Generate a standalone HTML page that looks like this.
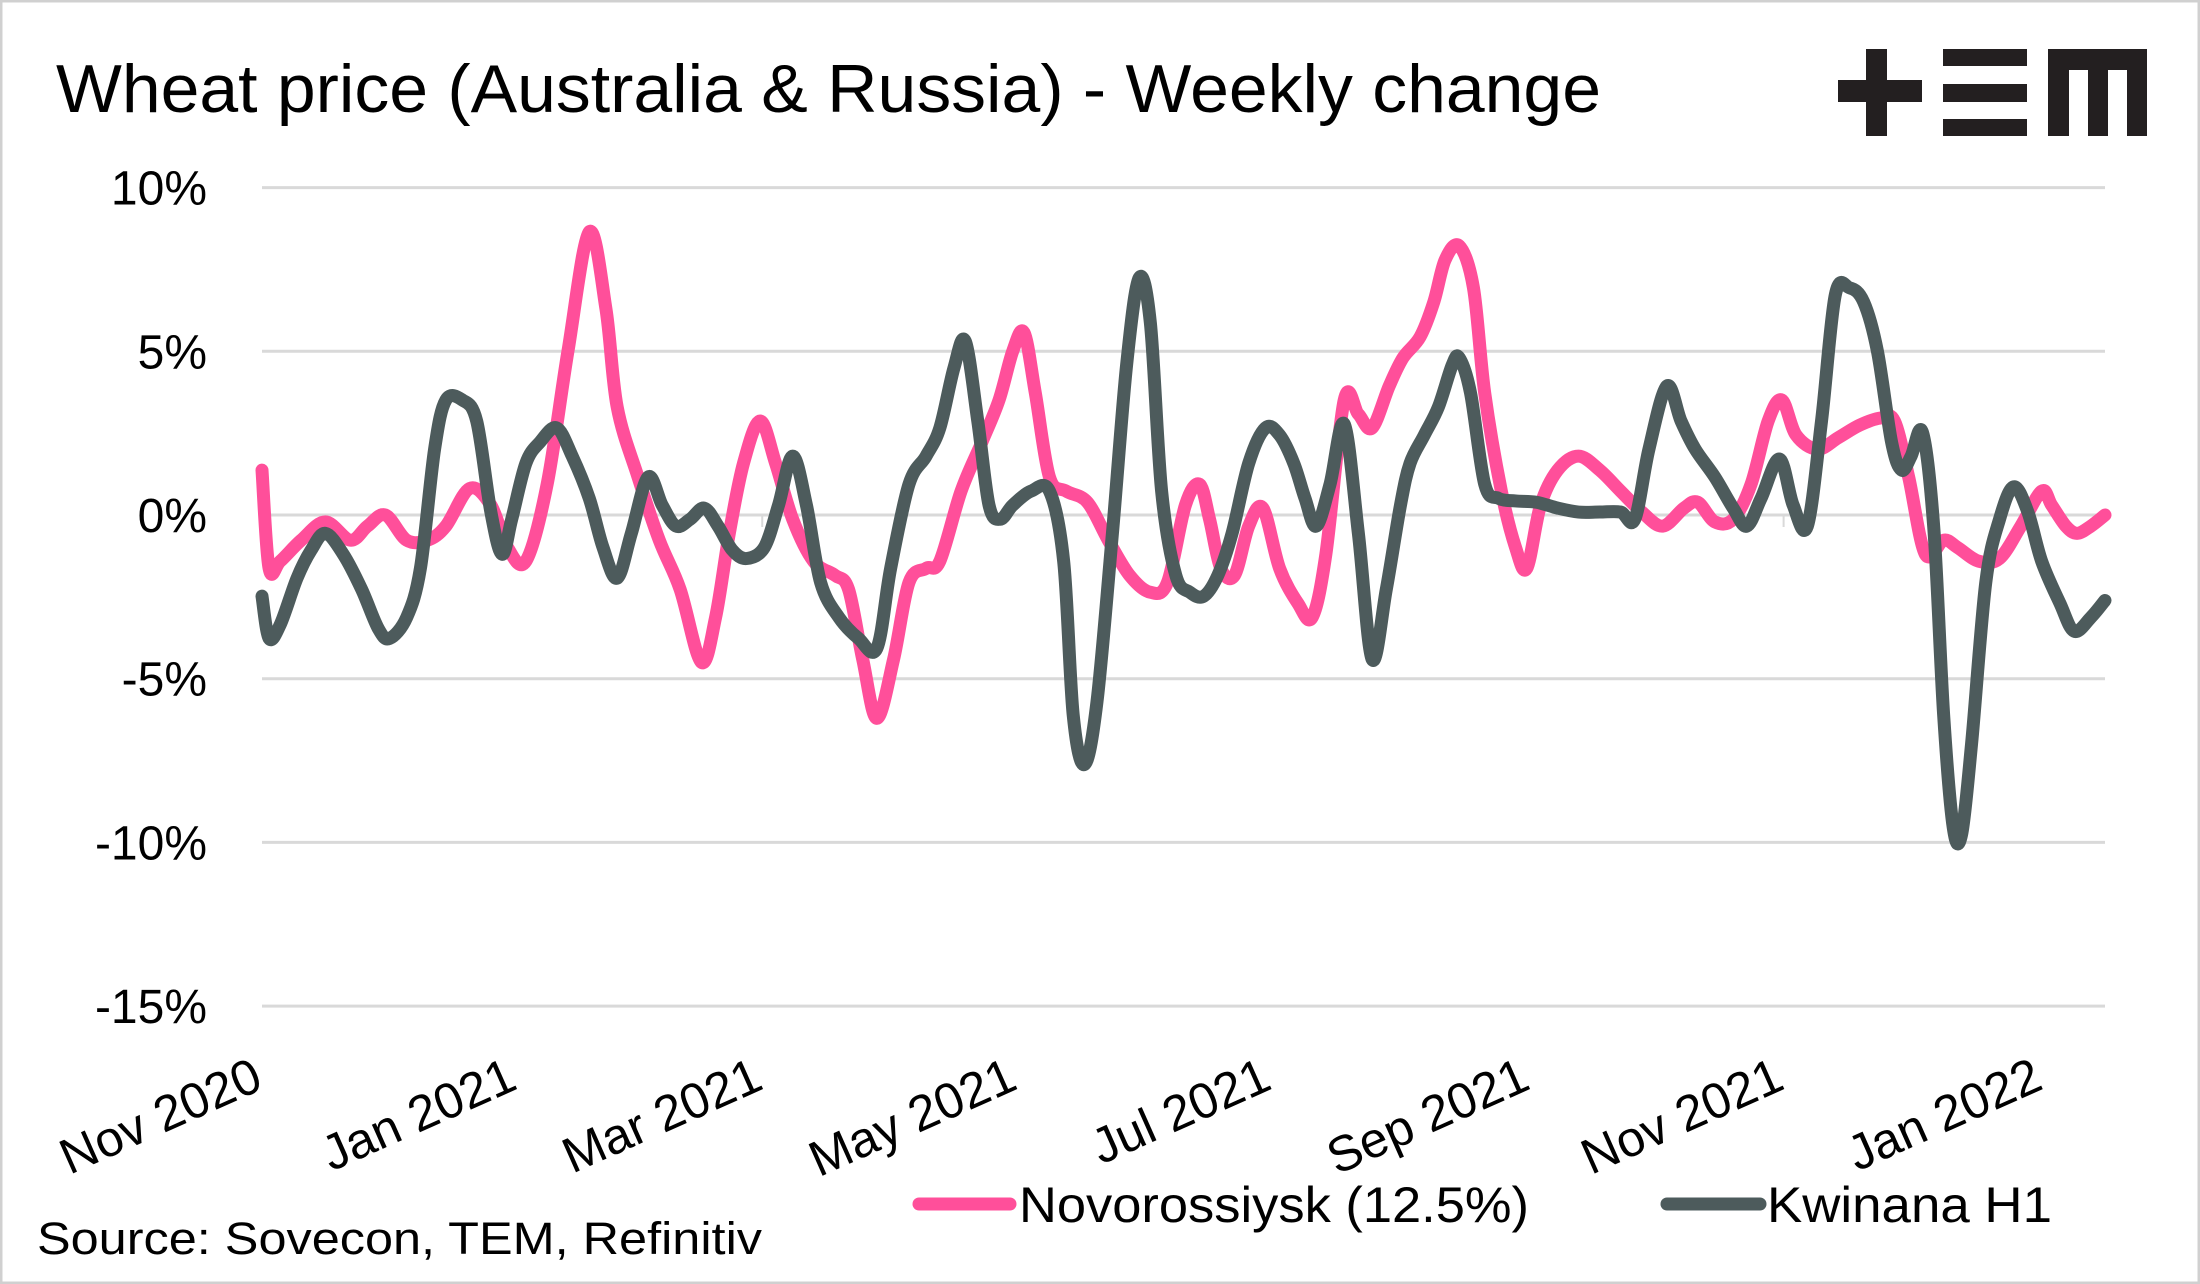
<!DOCTYPE html>
<html><head><meta charset="utf-8"><style>
html,body{margin:0;padding:0;background:#fff}
svg{display:block}
text{font-family:"Liberation Sans",sans-serif;fill:#000}
</style></head><body>
<svg id="chart" width="2200" height="1284" viewBox="0 0 2200 1284">
<rect x="1" y="1" width="2198" height="1282" fill="#fff" stroke="#d0d0d0" stroke-width="3"/>
<text x="56" y="112" font-size="68" textLength="1545" lengthAdjust="spacingAndGlyphs">Wheat price (Australia &amp; Russia)  - Weekly change</text>
<g fill="#231f20">
<rect x="1866" y="49" width="21" height="87"/><rect x="1838" y="80" width="84" height="22"/>
<rect x="1943" y="49" width="84" height="17"/><rect x="1943" y="84" width="84" height="18"/><rect x="1943" y="119" width="84" height="17"/>
<rect x="2048" y="49" width="99" height="21"/><rect x="2048" y="49" width="21" height="87"/><rect x="2088" y="49" width="20" height="87"/><rect x="2127" y="49" width="20" height="87"/>
</g>
<g id="grid"></g>
<g id="yaxis"></g>
<g id="xaxis"></g>
<g id="series"></g>
<g>
<line x1="919" y1="1204" x2="1010" y2="1204" stroke="#ff4f9a" stroke-width="13" stroke-linecap="round"/>
<text x="1019" y="1222" font-size="50" textLength="510" lengthAdjust="spacingAndGlyphs">Novorossiysk (12.5%)</text>
<line x1="1667" y1="1204" x2="1760" y2="1204" stroke="#4d5b5c" stroke-width="13" stroke-linecap="round"/>
<text x="1767" y="1222" font-size="50" textLength="285" lengthAdjust="spacingAndGlyphs">Kwinana H1</text>
</g>
<text x="37" y="1254" font-size="45" textLength="725" lengthAdjust="spacingAndGlyphs">Source: Sovecon, TEM, Refinitiv</text>
</svg>
<script>
// days since 1 Nov 2020, values in %
const novDays=[0,1.7,4.4,9.4,15.2,21.2,25.3,29.6,34.7,39.7,44.1,49.8,54.9,58.9,63.3,68.4,73.4,78.5,82.5,85.2,90.2,95.3,100.3,105.4,108.8,112.1,115.5,119.5,123.2,127.3,132.3,137.4,140.7,144.1,147.5,151.5,155.2,159.3,162.6,167.7,172.7,176.8,180.1,182.8,185.5,188.9,192.9,198.0,203.0,208.1,213.1,217.2,221.5,224.9,227.3,230.0,233.3,236.7,240.1,244.1,248.5,251.9,255.2,259.6,263.0,266.3,270.4,273.7,277.8,281.1,283.8,287.2,290.6,293.3,297.3,300.7,303.4,306.7,310.8,315.8,320.9,325.9,331.0,336.0,341.1,344.4,348.5,352.9,357.2,361.3,364.6,368.0,373.1,378.1,383.2,388.2,391.6,395.0,399.0,403.4,406.7,411.8,416.8,421.9,426.9,429.3,432.7,435.4,438.7,442.1];
const novValues=[1.37,-1.63,-1.41,-0.77,-0.21,-0.77,-0.34,0,-0.77,-0.77,-0.34,0.81,0.30,-0.99,-1.41,0.94,5.01,8.65,6.30,3.30,1.16,-0.77,-2.27,-4.50,-3.13,-0.56,1.58,2.87,1.58,-0.13,-1.41,-1.84,-2.27,-4.41,-6.21,-4.41,-2.06,-1.63,-1.41,0.73,2.23,3.51,5.01,5.57,3.73,1.16,0.73,0.39,-0.77,-1.84,-2.36,-2.06,0.30,0.94,-0.13,-1.63,-1.84,-0.34,0.21,-1.63,-2.70,-3.13,-1.20,3.51,3.08,2.66,3.94,4.80,5.44,6.51,7.79,8.22,6.94,3.73,0.73,-0.99,-1.63,0.30,1.37,1.80,1.37,0.73,0.09,-0.34,0.21,0.39,-0.21,-0.13,0.94,2.87,3.51,2.44,2.01,2.36,2.74,2.96,2.87,1.16,-1.20,-0.77,-0.99,-1.41,-1.33,-0.34,0.73,0.30,-0.34,-0.56,-0.34,0];
const kwiDays=[0,1.7,4.4,8.4,11.8,15.2,19.5,23.9,27.9,30.6,34.7,38.0,41.4,44.1,48.1,51.5,54.9,57.6,59.9,63.3,66.7,70.7,74.4,78.5,81.8,85.2,88.6,92.6,96.0,99.3,102.7,106.1,109.4,112.8,116.2,120.5,123.9,127.3,130.6,134.0,138.4,143.1,147.5,150.8,155.2,159.3,162.6,166.0,168.7,171.7,174.4,177.1,180.1,184.5,188.9,192.3,194.6,197.3,200.3,204.0,207.4,210.4,213.1,215.8,219.2,222.6,225.9,229.3,232.7,236.7,240.7,244.1,247.5,250.2,252.9,256.2,259.6,263.0,266.3,269.7,273.1,275.4,278.8,282.2,285.5,287.2,289.9,293.3,296.6,300.7,305.7,310.8,315.8,320.9,325.9,329.3,332.7,337.0,340.4,343.8,348.5,352.9,356.2,359.6,364.0,367.3,370.7,374.1,377.4,380.8,384.2,387.5,390.9,393.3,395.6,398.3,401.0,403.4,405.7,407.7,410.1,413.5,416.8,420.2,423.6,426.9,431.3,434.7,438.7,442.1];
const kwiValues=[-2.48,-3.77,-3.34,-1.93,-1.07,-0.56,-1.20,-2.27,-3.47,-3.77,-3.13,-1.63,2.01,3.51,3.51,2.87,0.09,-1.20,-0.13,1.58,2.23,2.66,1.80,0.51,-0.99,-1.93,-0.56,1.16,0.30,-0.34,-0.13,0.21,-0.34,-1.07,-1.33,-0.99,0.30,1.80,0.30,-2.06,-3.13,-3.77,-4.07,-1.63,0.94,1.80,2.66,4.50,5.31,2.87,0.30,-0.13,0.30,0.73,0.73,-1.41,-6.12,-7.62,-5.70,-0.56,4.58,7.24,5.87,0.73,-1.84,-2.36,-2.48,-1.84,-0.56,1.58,2.66,2.44,1.58,0.51,-0.34,0.94,2.78,-0.56,-4.41,-2.27,0.30,1.58,2.44,3.30,4.58,4.80,3.73,0.94,0.51,0.43,0.39,0.21,0.09,0.09,0.09,-0.13,2.01,3.94,2.87,2.01,1.16,0.21,-0.34,0.51,1.71,0.30,-0.34,2.87,6.72,6.94,6.51,5.01,2.23,1.37,1.80,2.53,-0.34,-6.12,-9.55,-9.76,-6.98,-2.06,-0.13,0.86,0.09,-1.41,-2.70,-3.55,-3.13,-2.61];
const yTicks=[10,5,0,-5,-10,-15];
const yTickLabels=["10%","5%","0%","-5%","-10%","-15%"];
const xTickDays=[0,61,120,181,242,304,365,427];
const xTickLabels=["Nov 2020","Jan 2021","Mar 2021","May 2021","Jul 2021","Sep 2021","Nov 2021","Jan 2022"];

const NS="http://www.w3.org/2000/svg";
const X0=262,X1=2105,DMAX=442.1,Y0=515,PER=163.7/5;
const xs=d=>X0+(X1-X0)*d/DMAX;
const ys=v=>Y0-v*PER;
function mk(tag,attrs,parent){const e=document.createElementNS(NS,tag);for(const k in attrs)e.setAttribute(k,attrs[k]);parent.appendChild(e);return e;}
const grid=document.getElementById('grid'),ya=document.getElementById('yaxis'),xa=document.getElementById('xaxis'),ser=document.getElementById('series');
yTicks.forEach((t,i)=>{
  const l=mk('line',{x1:262,x2:2105,y1:ys(t),y2:ys(t),stroke:'#d9d9d9','stroke-width':3},grid);
  
  
  const tx=mk('text',{x:207,y:ys(t)+17,'font-size':48,'text-anchor':'end'},ya);
  tx.textContent=yTickLabels[i];
  
  
});
xTickDays.forEach((d,i)=>{
  if(i===2||i===6){const tk=mk('line',{x1:xs(d),x2:xs(d),y1:Y0,y2:Y0+12,stroke:'#d9d9d9','stroke-width':2},xa);
    
    }
  const px=xs(d)+3,py=1088;
  const tx=mk('text',{x:px,y:py,'font-size':50,'text-anchor':'end',transform:`rotate(-24 ${px} ${py})`},xa);
  tx.textContent=xTickLabels[i];
  
  
});
function path(days,vals){
  const p=days.map((d,i)=>[xs(d),ys(vals[i])]);
  let s=`M${p[0][0]},${p[0][1]}`;
  for(let i=0;i<p.length-1;i++){
    const a=p[i-1]||p[i],b=p[i],c=p[i+1],e=p[i+2]||c;
    const c1=[b[0]+(c[0]-a[0])/6,b[1]+(c[1]-a[1])/6],c2=[c[0]-(e[0]-b[0])/6,c[1]-(e[1]-b[1])/6];
    s+=`C${c1[0]},${c1[1]} ${c2[0]},${c2[1]} ${c[0]},${c[1]}`;
  }
  return s;
}
const pn=mk('path',{d:path(novDays,novValues),fill:'none',stroke:'#ff4f9a','stroke-width':13,'stroke-linejoin':'round','stroke-linecap':'round'},ser);


const pk=mk('path',{d:path(kwiDays,kwiValues),fill:'none',stroke:'#4d5b5c','stroke-width':13,'stroke-linejoin':'round','stroke-linecap':'round'},ser);


</script>
</body></html>
